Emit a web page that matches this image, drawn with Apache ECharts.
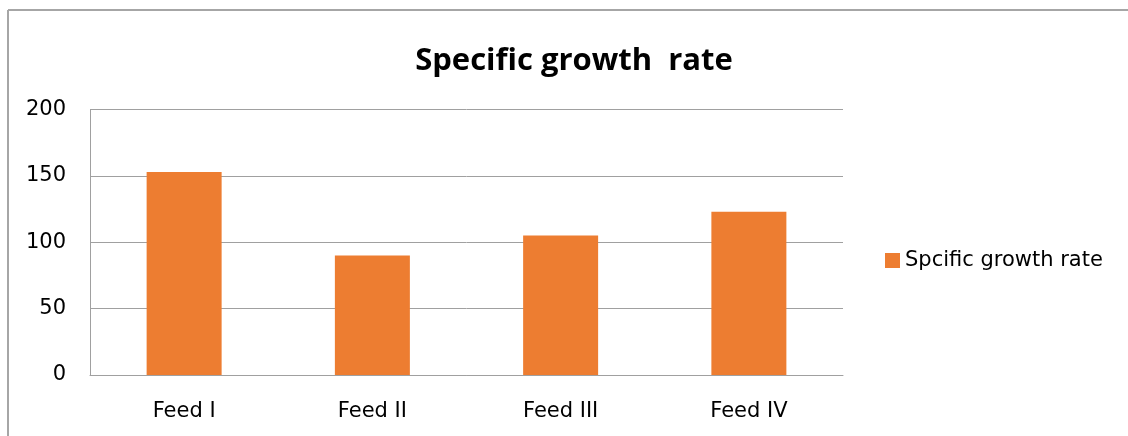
<!DOCTYPE html>
<html>
<head>
<meta charset="utf-8">
<script src="https://cdn.jsdelivr.net/npm/echarts@6/dist/echarts.min.js"></script>
<style>
  html, body { margin: 0; padding: 0; background: #fff; }
  #chart { width: 1128px; height: 436px; }
</style>
</head>
<body>
<div id="chart"></div>
<script>
const titleText = 'Specific growth  rate';
const seriesName = 'Spcific growth rate';
const categories = ['Feed I', 'Feed II', 'Feed III', 'Feed IV'];
const growthValues = [153, 90, 105, 123];
const yTicks = { min: 0, max: 200, interval: 50 };

const LABEL_FONT = '"DejaVu Sans", sans-serif';
const TITLE_FONT = '"Open Sans", sans-serif';
const chart = echarts.init(document.getElementById('chart'), null, { renderer: 'canvas' });

chart.setOption({
  backgroundColor: '#ffffff',
  animation: false,
  title: {
    text: titleText,
    left: 569,
    textAlign: 'center',
    top: 41,
    textStyle: { fontFamily: TITLE_FONT, fontWeight: 'bold', fontSize: 31, color: '#000' }
  },
  legend: {
    data: [seriesName],
    left: 880,
    top: 245,
    itemWidth: 15,
    itemHeight: 15,
    icon: 'rect',
    textStyle: { fontFamily: LABEL_FONT, fontSize: 21, color: '#000' }
  },
  grid: { left: 90, right: 285, top: 109.5, bottom: 61, containLabel: false },
  xAxis: {
    type: 'category',
    data: categories,
    axisLine: { show: true, lineStyle: { color: '#a0a0a0', width: 1 } },
    axisTick: { show: false },
    axisLabel: { fontFamily: LABEL_FONT, fontSize: 21, color: '#000', margin: 26 }
  },
  yAxis: {
    type: 'value',
    min: yTicks.min,
    max: yTicks.max,
    interval: yTicks.interval,
    axisLine: { show: true, lineStyle: { color: '#a0a0a0', width: 1 } },
    axisTick: { show: false },
    axisLabel: { fontFamily: LABEL_FONT, fontSize: 21, color: '#000', margin: 24, padding: [2, 0, 0, 0] },
    splitLine: { show: true, lineStyle: { color: '#a0a0a0', width: 1 } }
  },
  series: [{
    name: seriesName,
    type: 'bar',
    data: growthValues,
    barWidth: 75,
    itemStyle: { color: '#ed7d31' }
  }],
  graphic: [
    { type: 'line', shape: { x1: 8, y1: 10, x2: 1128, y2: 10 }, style: { stroke: '#a6a6a6', lineWidth: 2 } },
    { type: 'line', shape: { x1: 8, y1: 10, x2: 8, y2: 436 }, style: { stroke: '#a6a6a6', lineWidth: 2 } }
  ]
});
</script>
</body>
</html>
